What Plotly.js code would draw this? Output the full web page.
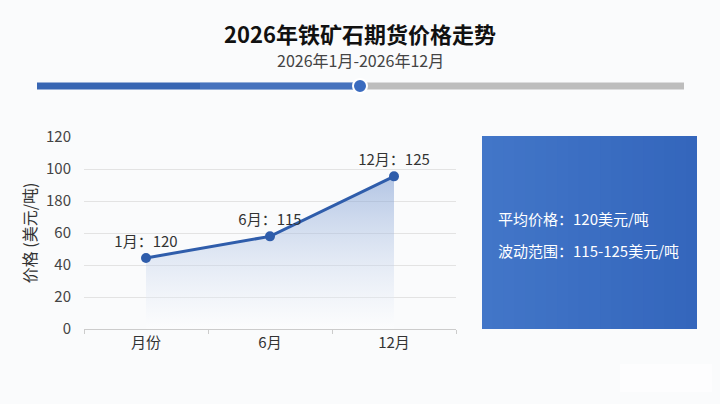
<!DOCTYPE html>
<html>
<head>
<meta charset="utf-8">
<script src="https://cdn.plot.ly/plotly-3.0.1.min.js"></script>
<style>
html,body{margin:0;padding:0;background:#fafbfc;}
#chart{width:720px;height:404px;}
</style>
</head>
<body>
<div id="chart"></div>
<script>
// ---- data ----
const categories = ['月份', '6月', '12月'];
const plottedValues = [44.4, 57.9, 95.4];
const pointLabels = ['1月：120', '6月：115', '12月：125'];
const yTickValues = [0, 20, 40, 60, 80, 100, 120];
const yTickLabels = ['0', '20', '40', '60', '180', '100', '120'];
const titleText = '2026年铁矿石期货价格走势';
const subtitleText = '2026年1月-2026年12月';
const yAxisTitle = '价格 (美元/吨)';
const summaryLines = ['平均价格：120美元/吨', '波动范围：115-125美元/吨'];

// ---- helpers (pixel -> paper coords) ----
const L = 84, R = 456, T = 137, B = 329;
const px = p => (p - L) / (R - L);
const py = p => (B - p) / (B - T);
const FONT = '"Noto Sans CJK SC", "Noto Sans", sans-serif';

const trace = {
  type: 'scatter',
  mode: 'lines+markers+text',
  x: categories,
  y: plottedValues,
  text: pointLabels,
  textposition: 'top center',
  textfont: {family: FONT, size: 15, color: '#333'},
  line: {color: '#2f5dab', width: 3},
  marker: {color: '#2f5dab', size: 10},
  fill: 'tozeroy',
  fillgradient: {
    type: 'vertical',
    start: 0,
    stop: 95,
    colorscale: [[0, 'rgba(255,255,255,0.3)'], [1, 'rgba(110,145,205,0.5)']]
  },
  hoverinfo: 'skip',
  cliponaxis: false
};

const shapes = [];
// progress bar: blue part drawn as a path (single shape, no seams)
shapes.push({type: 'path', xref: 'paper', yref: 'paper',
  path: `M ${px(37)} ${py(82.5)} L ${px(360)} ${py(82.5)} L ${px(360)} ${py(89.5)} L ${px(37)} ${py(89.5)} Z`,
  fillcolor: '#3866b3', line: {width: 0}});
// lighter overlay fading toward the right end
shapes.push({type: 'path', xref: 'paper', yref: 'paper',
  path: `M ${px(200)} ${py(82.5)} L ${px(360)} ${py(82.5)} L ${px(360)} ${py(89.5)} L ${px(200)} ${py(89.5)} Z`,
  fillcolor: 'rgba(110,150,220,0.25)', line: {width: 0}});
shapes.push({type: 'rect', xref: 'paper', yref: 'paper', x0: px(360), x1: px(684),
  y0: py(89.5), y1: py(82.5), fillcolor: '#bdbdbd', line: {width: 0}});
shapes.push({type: 'circle', xref: 'paper', yref: 'paper',
  x0: px(353), x1: px(367), y0: py(93), y1: py(79),
  fillcolor: '#3a6bbf', line: {color: '#ffffff', width: 2}});
// summary box (soft gradient via overlapping vertical strips)
const boxN = 20;
for (let i = 0; i < boxN; i++) {
  const t = i / (boxN - 1);
  const r = Math.round(66 - t * 14);
  const g = Math.round(118 - t * 16);
  const b = Math.round(200 - t * 12);
  const a = 482 + (697 - 482) * i / boxN;
  const e = Math.min(697, 482 + (697 - 482) * (i + 1) / boxN + 4);
  shapes.push({type: 'rect', xref: 'paper', yref: 'paper', layer: 'below',
    x0: px(a), x1: px(e),
    y0: py(329), y1: py(136),
    fillcolor: `rgb(${r},${g},${b})`, line: {width: 0}});
}
// faint watermark box
shapes.push({type: 'rect', xref: 'paper', yref: 'paper', layer: 'below',
  x0: px(620), x1: px(712), y0: py(392), y1: py(364),
  fillcolor: 'rgba(255,255,255,0.6)', line: {width: 0}});

const annotations = [
  {xref: 'paper', yref: 'paper', x: px(360), y: py(60), text: subtitleText,
   showarrow: false, xanchor: 'center', yanchor: 'middle',
   font: {family: FONT, size: 16, color: '#444'}},
  {xref: 'paper', yref: 'paper', x: px(496), y: py(218), text: summaryLines[0],
   showarrow: false, xanchor: 'left', yanchor: 'middle',
   font: {family: FONT, size: 15, color: '#ffffff'}},
  {xref: 'paper', yref: 'paper', x: px(496), y: py(250), text: summaryLines[1],
   showarrow: false, xanchor: 'left', yanchor: 'middle',
   font: {family: FONT, size: 15, color: '#ffffff'}}
];

const layout = {
  width: 720, height: 404,
  margin: {l: L, r: 720 - R, t: T, b: 404 - B, pad: 0},
  paper_bgcolor: '#fafbfc',
  plot_bgcolor: 'rgba(0,0,0,0)',
  showlegend: false,
  title: {text: '<b>' + titleText + '</b>', x: 0.5, xref: 'container', xanchor: 'center',
    y: 1 - 35 / 404, yref: 'container', yanchor: 'middle',
    font: {family: FONT, size: 22, color: '#111'}},
  xaxis: {
    type: 'category', range: [-0.5, 2.5], fixedrange: true,
    showgrid: false, zeroline: false,
    showline: true, linecolor: '#cccccc', linewidth: 1,
    ticks: 'outside', tickson: 'boundaries', ticklen: 4, tickcolor: '#cccccc',
    tickfont: {family: FONT, size: 15, color: '#333'}
  },
  yaxis: {
    range: [0, 120], fixedrange: true,
    tickvals: yTickValues, ticktext: yTickLabels,
    showgrid: true, gridcolor: '#e3e3e3', gridwidth: 1,
    zeroline: false, showline: false, ticks: '',
    ticklabelstandoff: 12,
    tickfont: {family: FONT, size: 15, color: '#444'},
    title: {text: yAxisTitle, standoff: 5, font: {family: FONT, size: 16, color: '#333'}}
  },
  shapes: shapes,
  annotations: annotations
};

Plotly.newPlot('chart', [trace], layout, {displayModeBar: false, staticPlot: true});
</script>
</body>
</html>
